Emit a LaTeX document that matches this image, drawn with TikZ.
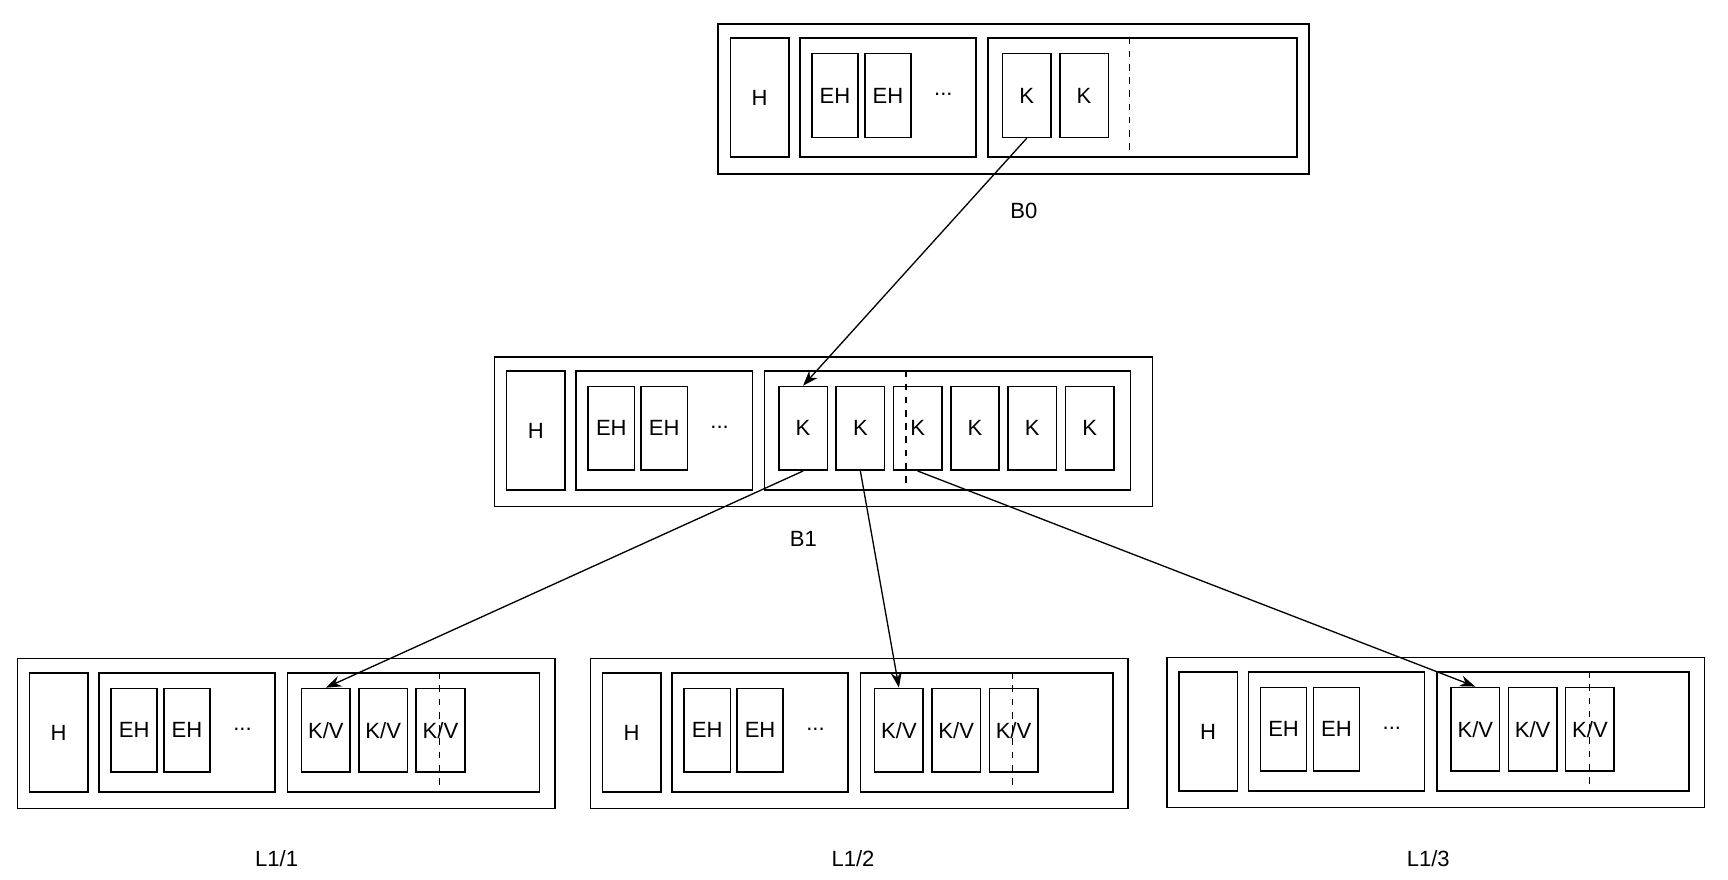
\documentclass[tikz,border=0pt]{standalone}
\usepackage{fontspec}
\setmainfont{Liberation Sans}
\usetikzlibrary{arrows.meta}

\tikzset{
  box/.style={draw, line width=0.7pt, inner sep=0pt, anchor=north west},
  cell/.style={box, minimum width=22pt, minimum height=38pt, font=\fontsize{10}{12}\selectfont},
  lbl/.style={font=\fontsize{10}{12}\selectfont},
  link/.style={-{Stealth[length=7pt,width=5pt]}, line width=0.6pt},
}

% \block{name}{x}{y}{outer width}{group width}{dash offset}{cells}
\newcommand\block[7]{
  \node[box, minimum width=#4*0.5pt, minimum height=68pt] (#1) at (#2,#3) {};
  \node[box, minimum width=26.5pt, minimum height=54pt, lbl] (#1-h) at (#2+11,#3+13) {H};
  \node[box, minimum width=80pt, minimum height=54pt] (#1-eh) at (#2+74,#3+13) {};
  \node[cell, minimum width=21pt] (#1-e1) at (#2+85,#3+27) {EH};
  \node[cell, minimum width=21pt] (#1-e2) at (#2+133,#3+27) {EH};
  \node[lbl] (#1-dots) at (#2+205,#3+65) {...};
  \node[box, minimum width=#5*0.5pt, minimum height=54pt] (#1-g) at (#2+245,#3+13) {};
  \foreach \t [count=\i] in {#7}
    \node[cell] (#1-c\i) at (#2+258+52*\i-52,#3+27) {\t};
  \draw[dashed, line width=0.6pt] (#2+#6,#3+13) -- (#2+#6,#3+121);
}

\begin{document}
\begin{tikzpicture}[x=0.5pt, y=-0.5pt]
\useasboundingbox (0,0) rectangle (1568,798);

\block{b0}{651}{21}{536}{280}{374}{K,K}
\block{b1}{448}{323}{597}{332}{374}{K,K,K,K,K,K}
\block{la}{15}{597}{488}{229}{384}{K/V,K/V,K/V}
\block{lb}{535}{597}{488}{229}{384}{K/V,K/V,K/V}
\block{lc}{1058}{596}{488}{229}{384}{K/V,K/V,K/V}

\node[lbl] (b0-name) at (929,191) {B0};
\node[lbl] (b1-name) at (729,489) {B1};
\node[lbl] (la-name) at (251,779) {L1/1};
\node[lbl] (lb-name) at (774,779) {L1/2};
\node[lbl] (lc-name) at (1296,779) {L1/3};

\draw[link] (b0-c1.south) -- (b1-c1.north);
\draw[link] (b1-c1.south) -- (la-c1.north);
\draw[link] (b1-c2.south) -- (lb-c1.north);
\draw[link] (b1-c3.south) -- (lc-c1.north);
\end{tikzpicture}
\end{document}
